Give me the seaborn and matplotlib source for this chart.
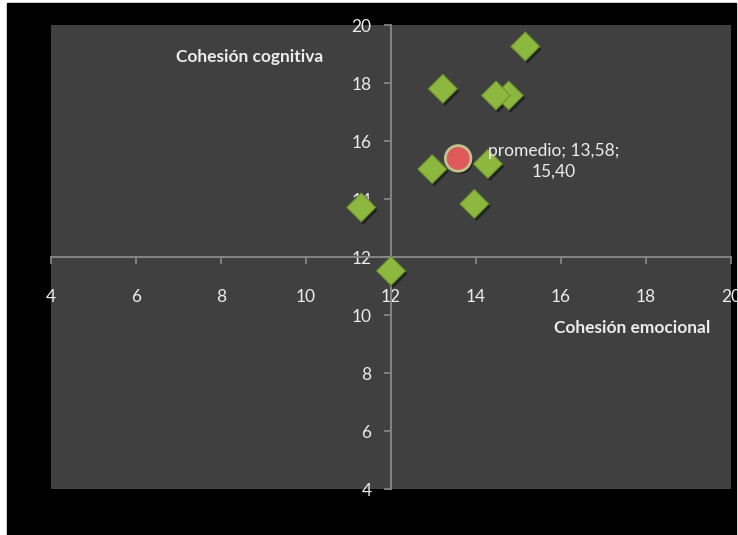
import matplotlib
matplotlib.use('Agg')
import matplotlib.pyplot as plt
import matplotlib.patheffects as pe
from matplotlib.patches import Rectangle
import pandas as pd
import seaborn as sns

# datos
emocional = [15.16, 13.22, 14.77, 14.47, 12.97, 14.28, 13.96, 11.30, 12.00]
cognitiva = [19.26, 17.80, 17.57, 17.57, 15.03, 15.21, 13.83, 13.71, 11.52]
promedio_x = [13.58]
promedio_y = [15.40]
ticks = [4, 6, 8, 10, 12, 14, 16, 18, 20]
titulo_x = 'Cohesión emocional'
titulo_y = 'Cohesión cognitiva'

sns.set_style('dark')
plt.rcParams['font.family'] = ['Lato', 'DejaVu Sans']

txt = '#EDEDED'
axis_col = '#8A8A8A'

fig = plt.figure(figsize=(7.38, 5.35), dpi=100, facecolor='white')
# fondo negro del area del grafico
fig.patches.append(Rectangle((7 / 738, 0), 729 / 738, 532 / 535,
                             transform=fig.transFigure, color='black', zorder=-10))
ax = fig.add_axes([51 / 738, 1 - 489 / 535, 680 / 738, 464 / 535])
ax.set_zorder(1)
ax.set_facecolor('#404040')

pts = pd.DataFrame({'x': emocional, 'y': cognitiva})
prom = pd.DataFrame({'x': promedio_x, 'y': promedio_y})

sns.scatterplot(data=pts, x='x', y='y', marker='D', s=215, color='#8DB840',
                edgecolor='#6B932C', linewidth=0.8, ax=ax, zorder=3)
sns.scatterplot(data=prom, x='x', y='y', marker='o', s=340, color='#DE5A5A',
                edgecolor='#C2C08E', linewidth=2, ax=ax, zorder=4)
for c in ax.collections:
    c.set_path_effects([pe.SimplePatchShadow(offset=(1.5, -2), shadow_rgbFace='black', alpha=0.45),
                        pe.Normal()])

ax.set_xlim(4, 20)
ax.set_ylim(4, 20)
ax.set_xticks(ticks)
ax.set_yticks(ticks)
ax.set_xticklabels([str(t) for t in ticks])
ax.set_yticklabels([str(t) for t in ticks])
ax.grid(False)
ax.set_xlabel('')
ax.set_ylabel('')

# ejes cruzados en (12, 12)
ax.spines['left'].set_position(('data', 12))
ax.spines['bottom'].set_position(('data', 12))
ax.spines['top'].set_visible(False)
ax.spines['right'].set_visible(False)
for s in ['left', 'bottom']:
    ax.spines[s].set_visible(True)
    ax.spines[s].set_color(axis_col)
    ax.spines[s].set_linewidth(1.3)
    ax.spines[s].set_zorder(2)
ax.tick_params(axis='x', direction='out', length=5, width=1.2, color=axis_col,
               labelcolor=txt, labelsize=12.5, pad=18, bottom=True)
ax.tick_params(axis='y', direction='out', length=5, width=1.2, color=axis_col,
               labelcolor=txt, labelsize=12.5, pad=9, left=True)

ax.text(8.68, 18.9, titulo_y, color=txt, fontsize=12.5, fontweight='bold',
        ha='center', va='center')
ax.text(17.67, 9.55, titulo_x, color=txt, fontsize=12.5, fontweight='bold',
        ha='center', va='center')

etiqueta = 'promedio; {:.2f};\n{:.2f}'.format(promedio_x[0], promedio_y[0]).replace('.', ',')
ax.annotate(etiqueta, (promedio_x[0], promedio_y[0]), xytext=(69, -2),
            textcoords='offset points', ha='center', va='center',
            multialignment='center', color=txt, fontsize=12.5, linespacing=1.3)

fig.savefig('out.png', dpi=100, facecolor=fig.get_facecolor())
